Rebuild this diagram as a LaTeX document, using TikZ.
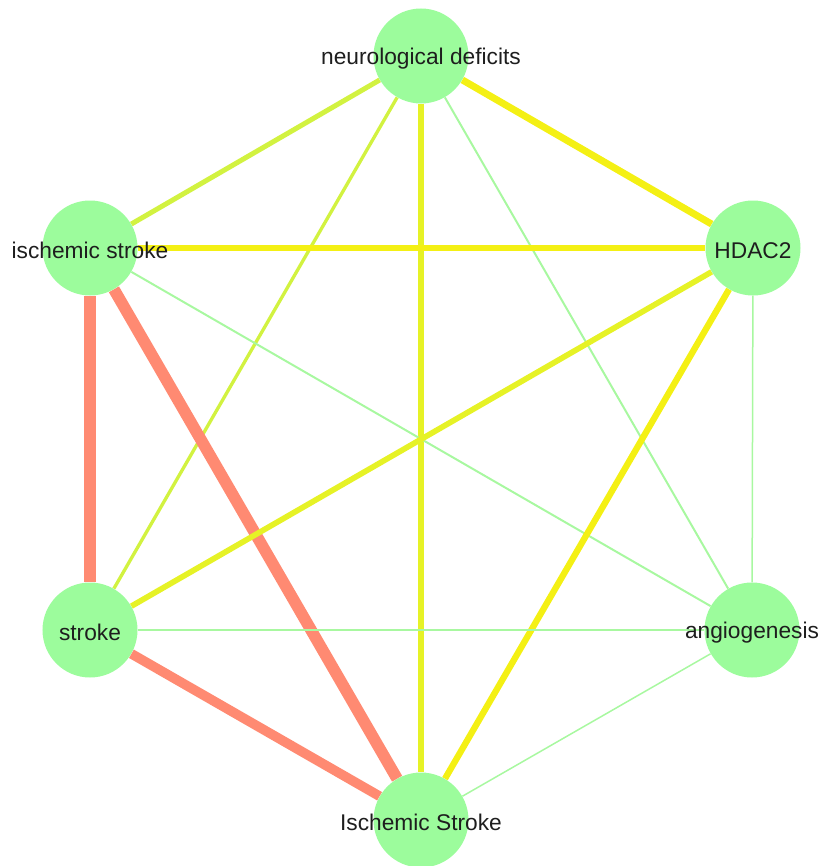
\documentclass[tikz,border=0pt]{standalone}
\usepackage{fontspec}
\setmainfont{Liberation Sans}
\usetikzlibrary{backgrounds}

\definecolor{nodegreen}{HTML}{9CFC9C}
\definecolor{edgesalmon}{HTML}{FF8A72}
\definecolor{edgeyellow}{HTML}{F4F014}
\definecolor{edgeolive}{HTML}{E6F226}
\definecolor{edgelime}{HTML}{D2F240}
\definecolor{edgegreen}{HTML}{A8F8A0}
\definecolor{labelgray}{HTML}{1E1E1E}

\tikzset{
  term/.style={circle, fill=nodegreen, minimum size=2.85cm, inner sep=0pt},
  termtext/.style={text=labelgray, font=\fontsize{19.4}{23}\selectfont, yshift=-0.08cm},
  heavy/.style={draw=edgesalmon, line width=0.35cm},
  strong/.style={draw=edgeyellow, line width=0.21cm},
  medium/.style={draw=edgeolive, line width=0.17cm},
  weak/.style={draw=edgelime, line width=0.13cm},
  faint/.style={draw=edgegreen, line width=0.06cm}
}

\begin{document}
\begin{tikzpicture}[x=0.03cm, y=-0.03cm]
  \useasboundingbox (0,0) rectangle (821,866);

  % Placing the terms
  \node [term, label={[termtext]center:neurological deficits}] (nd) at (421,56) {};
  \node [term, label={[termtext]center:HDAC2}] (hdac) at (753,248) {};
  \node [term, label={[termtext]center:ischemic stroke}] (isc) at (90,248) {};
  \node [term, label={[termtext]center:stroke}] (str) at (90,630) {};
  \node [term, label={[termtext]center:angiogenesis}] (ang) at (752,630) {};
  \node [term, label={[termtext]center:Ischemic Stroke}] (IS) at (421,820) {};

  \begin{pgfonlayer}{background}
    % Drawing edges from neurological deficits
    \draw [weak, line width=0.15cm] (nd) -- (isc);
    \draw [strong] (nd) -- (hdac);
    \draw [weak, line width=0.1cm] (nd) -- (str);
    \draw [medium] (nd) -- (IS);
    \draw [faint] (nd) -- (ang);

    % Drawing edges from ischemic stroke
    \draw [strong, line width=0.19cm] (isc) -- (hdac);
    \draw [heavy] (isc) -- (str);
    \draw [heavy] (isc) -- (IS);
    \draw [faint] (isc) -- (ang);

    % Drawing edges from HDAC2
    \draw [medium] (hdac) -- (str);
    \draw [strong, line width=0.19cm] (hdac) -- (IS);
    \draw [faint, line width=0.045cm] (hdac) -- (ang);

    % Drawing the remaining edges
    \draw [heavy, line width=0.29cm] (str) -- (IS);
    \draw [faint] (str) -- (ang);
    \draw [faint, line width=0.045cm] (ang) -- (IS);
  \end{pgfonlayer}
\end{tikzpicture}
\end{document}
